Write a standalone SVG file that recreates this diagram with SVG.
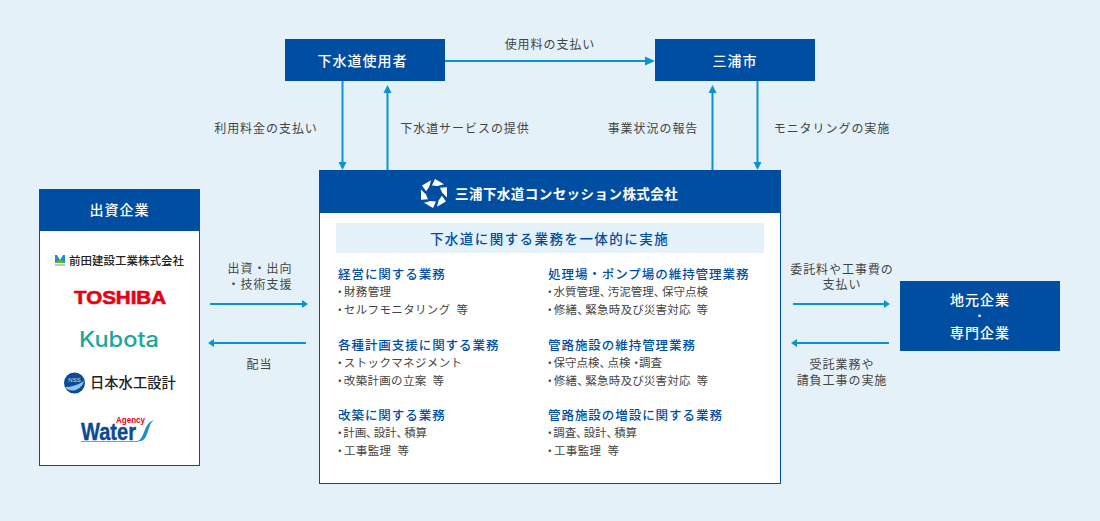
<svg xmlns="http://www.w3.org/2000/svg" width="1100" height="521" viewBox="0 0 1100 521">
<style>
text{font-family:"Noto Sans CJK JP","Noto Sans",sans-serif;}
.box{fill:#004ea2;}
.panel{fill:#fff;stroke:#004ea2;stroke-width:1;}
.w{fill:#fff;font-weight:500;font-size:14px;letter-spacing:1px;text-anchor:middle;}
.l{fill:#444;font-size:12px;letter-spacing:.95px;text-anchor:middle;}
.h{fill:#004ea2;font-weight:500;font-size:12.5px;letter-spacing:.95px;}
.t{fill:#444;font-size:11.5px;}
.b{letter-spacing:-2px;}
.p{letter-spacing:-3.5px;}
.c{stroke:#0a94cf;stroke-width:2;fill:none;}
.a{fill:#0a94cf;}
</style>
<defs><path id="blade" d="M1-14.400L10-9.200 3.500-7.500-2-8z"/></defs>
<rect width="1100" height="521" fill="#e4f1f9"/>
<g id="connectors">
<path class="c" d="M445 61H650"/><path class="a" d="M655 61l-10-4.500v9z"/>
<path class="c" d="M342.500 81V165"/><path class="a" d="M342.500 170l-4-8h8z"/>
<path class="c" d="M387.500 170V90"/><path class="a" d="M387.500 85l-4 8h8z"/>
<path class="c" d="M712.500 170V90"/><path class="a" d="M712.500 85l-4 8h8z"/>
<path class="c" d="M757.500 81V165"/><path class="a" d="M757.500 170l-4-8h8z"/>
<path class="c" d="M210 304H304"/><path class="a" d="M308 304l-6-4v8z"/>
<path class="c" d="M306 343H212"/><path class="a" d="M208 343l6-4v8z"/>
<path class="c" d="M793 304H885"/><path class="a" d="M890 304l-6-4v8z"/>
<path class="c" d="M889 343H795"/><path class="a" d="M791 343l6-4v8z"/>
</g>
<g id="labels">
<text class="l" x="550" y="49">使用料の支払い</text>
<text class="l" x="266" y="133">利用料金の支払い</text>
<text class="l" x="465" y="133">下水道サービスの提供</text>
<text class="l" x="653" y="133">事業状況の報告</text>
<text class="l" x="832" y="133">モニタリングの実施</text>
<text class="l" x="260" y="273">出資・出向</text>
<text class="l" x="260" y="289">・技術支援</text>
<text class="l" x="259.500" y="369">配当</text>
<text class="l" x="842" y="274">委託料や工事費の</text>
<text class="l" x="842" y="289">支払い</text>
<text class="l" x="842" y="369">受託業務や</text>
<text class="l" x="842" y="385">請負工事の実施</text>
</g>
<g id="n-users"><rect class="box" x="285" y="39" width="160" height="42"/><text class="w" x="362.500" y="66">下水道使用者</text></g>
<g id="n-miura"><rect class="box" x="655" y="39" width="160" height="42"/><text class="w" x="735" y="66">三浦市</text></g>
<g id="n-local"><rect class="box" x="900" y="281" width="160" height="70"/>
<text class="w" x="980" y="305">地元企業</text><text class="w" x="979.500" y="319.500" style="font-size:10px;font-weight:700;letter-spacing:0">・</text><text class="w" x="980" y="338">専門企業</text></g>
<g id="n-investors">
<rect class="panel" x="39.500" y="189.500" width="160" height="276"/>
<rect class="box" x="39" y="189" width="161" height="42"/>
<text class="w" x="119.500" y="215">出資企業</text>
<g id="logo-maeda">
<path d="M55 255h10v8H55z" fill="#1f8fc9"/><path d="M57 255h6l-3 5z" fill="#fff"/><path d="M55 263l5-4 5 4z" fill="#5cb531"/><path d="M55 264.500h10v1H55z" fill="#888"/>
<text x="69" y="265" style="font-size:11.500px;font-weight:500;fill:#222">前田建設工業株式会社</text></g>
<text x="120" y="304" text-anchor="middle" textLength="92" lengthAdjust="spacingAndGlyphs" style="font-family:'Liberation Sans',sans-serif;font-weight:700;font-size:18px;fill:#e60012;stroke:#e60012;stroke-width:.6">TOSHIBA</text>
<text x="119" y="347" text-anchor="middle" textLength="80" lengthAdjust="spacingAndGlyphs" style="font-family:'Inter',sans-serif;font-size:21px;font-weight:500;fill:#1ba79c">Kubota</text>
<g id="logo-nss"><circle cx="74.500" cy="383" r="10.500" fill="#0c4a94"/><path d="M65 387c6 0 13-2 19-6-2 9-14 13-19 6z" fill="#8cc4ea"/><text x="74.500" y="382" text-anchor="middle" style="font-family:'Liberation Sans',sans-serif;font-size:6px;fill:#cfe4f5">NSS</text>
<text x="90" y="388" style="font-size:14.300px;font-weight:500;fill:#222">日本水工設計</text></g>
<g id="logo-water"><text x="81" y="439.500" textLength="55" lengthAdjust="spacingAndGlyphs" style="font-family:'Liberation Sans',sans-serif;font-weight:700;font-size:24px;fill:#0c4a94;stroke:#0c4a94;stroke-width:.4">Water</text>
<text x="116" y="422.500" textLength="29" lengthAdjust="spacingAndGlyphs" style="font-family:'Liberation Sans',sans-serif;font-weight:700;font-size:9.500px;fill:#e60012">Agency</text>
<path d="M137 441c8-1 6-18 17-21-7 5-5 19-13 21z" fill="#1f8fc9"/><path d="M81 441h58v.8H81z" fill="#1f8fc9"/></g>
</g>
<g id="n-company">
<rect class="panel" x="319.500" y="170.500" width="461" height="313"/>
<rect class="box" x="319" y="170" width="462" height="43"/>
<g id="logo-mark" fill="#fff" transform="translate(434 193.500)"><use href="#blade"/><use href="#blade" transform="rotate(60)"/><use href="#blade" transform="rotate(120)"/><use href="#blade" transform="rotate(180)"/><use href="#blade" transform="rotate(240)"/><use href="#blade" transform="rotate(300)"/></g>
<text x="455" y="199" style="fill:#fff;font-weight:700;font-size:13.500px;letter-spacing:.45px">三浦下水道コンセッション株式会社</text>
<rect x="336" y="223" width="428" height="30" fill="#e4f1f9"/>
<text x="549.500" y="244" text-anchor="middle" style="fill:#004ea2;font-weight:500;font-size:13.500px;letter-spacing:1.45px">下水道に関する業務を一体的に実施</text>
<text class="h" x="338" y="279">経営に関する業務</text>
<text class="t" x="334" y="296" textLength="57"><tspan class="b">・</tspan>財務管理</text>
<text class="t" x="334" y="314" textLength="134"><tspan class="b">・</tspan>セルフモニタリング<tspan dx="3"> 等</tspan></text>
<text class="h" x="338" y="350">各種計画支援に関する業務</text>
<text class="t" x="334" y="367" textLength="128"><tspan class="b">・</tspan>ストックマネジメント</text>
<text class="t" x="334" y="385" textLength="110"><tspan class="b">・</tspan>改築計画の立案<tspan dx="3"> 等</tspan></text>
<text class="h" x="338" y="420">改築に関する業務</text>
<text class="t" x="334" y="437" textLength="93"><tspan class="b">・</tspan>計画<tspan class="p">、</tspan>設計<tspan class="p">、</tspan>積算</text>
<text class="t" x="334" y="455" textLength="75"><tspan class="b">・</tspan>工事監理<tspan dx="3"> 等</tspan></text>
<text class="h" x="548" y="279">処理場・ポンプ場の維持管理業務</text>
<text class="t" x="544" y="296" textLength="164"><tspan class="b">・</tspan>水質管理<tspan class="p">、</tspan>汚泥管理<tspan class="p">、</tspan>保守点検</text>
<text class="t" x="544" y="314" textLength="164"><tspan class="b">・</tspan>修繕<tspan class="p">、</tspan>緊急時及び災害対応<tspan dx="3"> 等</tspan></text>
<text class="h" x="548" y="350">管路施設の維持管理業務</text>
<text class="t" x="544" y="367" textLength="118"><tspan class="b">・</tspan>保守点検<tspan class="p">、</tspan>点検<tspan style="letter-spacing:-3px">・</tspan>調査</text>
<text class="t" x="544" y="385" textLength="164"><tspan class="b">・</tspan>修繕<tspan class="p">、</tspan>緊急時及び災害対応<tspan dx="3"> 等</tspan></text>
<text class="h" x="548" y="420">管路施設の増設に関する業務</text>
<text class="t" x="544" y="437" textLength="93"><tspan class="b">・</tspan>調査<tspan class="p">、</tspan>設計<tspan class="p">、</tspan>積算</text>
<text class="t" x="544" y="455" textLength="75"><tspan class="b">・</tspan>工事監理<tspan dx="3"> 等</tspan></text>
</g>
</svg>
